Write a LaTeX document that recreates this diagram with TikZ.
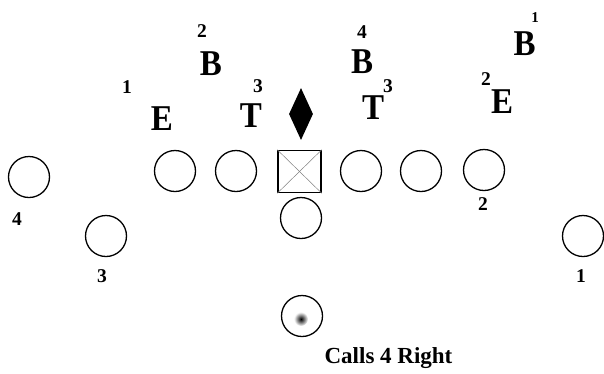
\documentclass[tikz,border=0pt]{standalone}
\usepackage{fontspec}
\setmainfont{Liberation Serif}
\usetikzlibrary{shapes.geometric}
\newcommand{\tallletter}[1]{\scalebox{1}[1.1]{#1}}
\begin{document}
\begin{tikzpicture}[x=1pt,y=-1pt,
  player/.style={circle,draw=black,line width=1.3pt,minimum size=41pt,inner sep=0pt},
  ctr/.style={rectangle,draw=black,line width=1.6pt,minimum width=43pt,minimum height=42pt,inner sep=0pt},
  big/.style={anchor=base,inner sep=0pt,font=\fontsize{33}{33}\selectfont\bfseries},
  num/.style={anchor=base,inner sep=0pt,font=\fontsize{19.5}{19.5}\selectfont\bfseries},
  captiontext/.style={anchor=base,inner sep=0pt,font=\fontsize{23}{23}\selectfont\bfseries}]
\useasboundingbox (0,0) rectangle (604,373);
% offense
\node[player] (wr4) at (29,177) {};
\node[player] (wr3) at (106,236) {};
\node[player] (lt) at (175,171) {};
\node[player] (lg) at (236,171) {};
\node[ctr] (c) at (299.5,171.5) {};
\draw[gray,line width=0.5pt] (c.north west) -- (c.south east);
\draw[gray,line width=0.5pt] (c.north east) -- (c.south west);
\node[player] (rg) at (361,171) {};
\node[player] (rt) at (421,171) {};
\node[player] (te) at (484,170) {};
\node[player] (qb) at (301,218) {};
\node[player] (wr1) at (583,236) {};
\node[player] (rb) at (302,316) {};
\shade[inner color=black,outer color=white] (301,319) circle (7pt);
% diamond
\node[diamond,fill=black,draw=none,minimum width=24pt,minimum height=52pt,inner sep=0pt] (d) at (301,114) {};
% defensive letters
\node[big] (e1) at (162,130) {\tallletter{E}};
\node[big] (b1) at (211,75) {\tallletter{B}};
\node[big] (t1) at (251,127) {\tallletter{T}};
\node[big] (b2) at (362,73) {\tallletter{B}};
\node[big] (t2) at (373,119) {\tallletter{T}};
\node[big] (e2) at (502,113) {\tallletter{E}};
\node[big] (b3) at (524.5,55) {\tallletter{B}};
% numbers
\node[num] (n1) at (127,93) {1};
\node[num] (n2) at (202,37) {2};
\node[num] (n3) at (258,92) {3};
\node[num] (n4) at (362,38) {4};
\node[num] (n5) at (388,92) {3};
\node[num] (n6) at (486,85) {2};
\node[num,font=\fontsize{15}{15}\selectfont\bfseries] (n7) at (535,22) {1};
\node[num] (n8) at (17,225) {4};
\node[num] (n9) at (102,282) {3};
\node[num] (n10) at (483,210) {2};
\node[num] (n11) at (581,282) {1};
\node[captiontext] (calls) at (388.5,363) {Calls 4 Right};
\end{tikzpicture}
\end{document}
